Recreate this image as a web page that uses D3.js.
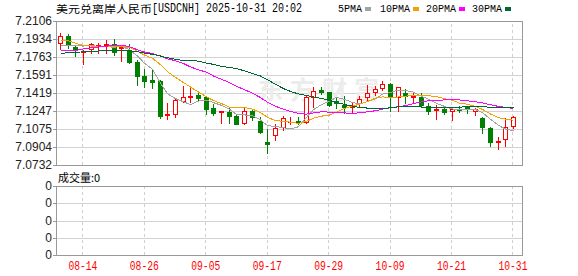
<!DOCTYPE html>
<html lang="zh">
<head>
<meta charset="UTF-8">
<title>美元兑离岸人民币[USDCNH] 日K</title>
<script src="https://cdn.jsdelivr.net/npm/d3@7/dist/d3.min.js"></script>
<style>
  body { margin: 0; background: #fff; }
  svg { display: block; }
  .grid line { stroke: #d2d2d2; shape-rendering: crispEdges; }
  .grid path { display: none; }
  .vgrid line { stroke: #cfcfcf; stroke-dasharray: 3,3; shape-rendering: crispEdges; }
  .vgrid path { display: none; }
  .ylab { font: 12px "Liberation Sans", Arial, sans-serif; fill: #222; }
  .mono { font-family: "Liberation Mono", "DejaVu Sans Mono", monospace; }
</style>
</head>
<body>
<div id="chart"></div>
<script>
// trading days shown (weekdays 08-11 .. 10-31)
const dates = ["08-11","08-12","08-13","08-14","08-15","08-18","08-19","08-20","08-21","08-22",
  "08-25","08-26","08-27","08-28","08-29","09-01","09-02","09-03","09-04","09-05",
  "09-08","09-09","09-10","09-11","09-12","09-15","09-16","09-17","09-18","09-19",
  "09-22","09-23","09-24","09-25","09-26","09-29","09-30","10-01","10-02","10-03",
  "10-06","10-07","10-08","10-09","10-10","10-13","10-14","10-15","10-16","10-17",
  "10-20","10-21","10-22","10-23","10-24","10-27","10-28","10-29","10-30","10-31"];

const opens = [7.1893,7.1963,7.1861,7.1807,7.1836,7.1867,7.1877,7.1887,7.1851,7.1829,
  7.1718,7.1581,7.1543,7.1533,7.1206,7.1216,7.1343,7.1378,7.1400,7.1378,
  7.1279,7.1235,7.1241,7.1199,7.1130,7.1250,7.1155,7.0954,7.1018,7.1092,
  7.1139,7.1155,7.1145,7.1384,7.1448,7.1429,7.1340,7.1304,7.1282,7.1327,
  7.1384,7.1432,7.1464,7.1505,7.1384,7.1416,7.1378,7.1384,7.1295,7.1257,
  7.1270,7.1247,7.1270,7.1282,7.1250,7.1177,7.1082,7.0954,7.0977,7.1107];

const highs = [7.1989,7.1982,7.1877,7.1829,7.1893,7.1893,7.1925,7.1931,7.1867,7.1887,
  7.1734,7.1645,7.1638,7.1543,7.1321,7.1368,7.1486,7.1479,7.1441,7.1390,
  7.1314,7.1250,7.1273,7.1209,7.1288,7.1263,7.1193,7.1073,7.1123,7.1199,
  7.1187,7.1193,7.1400,7.1479,7.1479,7.1432,7.1378,7.1390,7.1327,7.1390,
  7.1495,7.1486,7.1533,7.1511,7.1479,7.1454,7.1432,7.1422,7.1321,7.1304,
  7.1288,7.1282,7.1295,7.1295,7.1273,7.1187,7.1097,7.0996,7.1177,7.1199];

const lows = [7.1836,7.1845,7.1772,7.1693,7.1798,7.1798,7.1798,7.1782,7.1727,7.1708,
  7.1495,7.1479,7.1464,7.1183,7.1168,7.1187,7.1336,7.1336,7.1352,7.1219,
  7.1209,7.1136,7.1136,7.1123,7.1123,7.1161,7.1034,7.0849,7.0970,7.1066,
  7.1123,7.1123,7.1130,7.1282,7.1410,7.1295,7.1273,7.1231,7.1241,7.1288,
  7.1352,7.1400,7.1448,7.1250,7.1250,7.1321,7.1336,7.1282,7.1216,7.1173,
  7.1216,7.1161,7.1241,7.1231,7.1209,7.1034,7.0913,7.0888,7.0913,7.1082];

const closes = [7.1963,7.1877,7.1836,7.1817,7.1887,7.1877,7.1887,7.1813,7.1861,7.1718,
  7.1584,7.1533,7.1527,7.1202,7.1216,7.1352,7.1378,7.1390,7.1375,7.1263,
  7.1231,7.1244,7.1202,7.1126,7.1247,7.1193,7.1044,7.0932,7.1082,7.1184,
  7.1145,7.1142,7.1384,7.1441,7.1432,7.1304,7.1327,7.1282,7.1298,7.1362,
  7.1416,7.1457,7.1505,7.1384,7.1473,7.1390,7.1390,7.1304,7.1250,7.1270,
  7.1241,7.1270,7.1257,7.1273,7.1263,7.1097,7.0954,7.0964,7.1097,7.1187];

const ma5 = [7.1877,7.1877,7.1870,7.1867,7.1876,7.1859,7.1861,7.1856,7.1865,7.1831,
  7.1773,7.1702,7.1645,7.1513,7.1412,7.1366,7.1335,7.1308,7.1342,7.1352,
  7.1327,7.1301,7.1263,7.1213,7.1210,7.1202,7.1162,7.1108,7.1100,7.1087,
  7.1077,7.1097,7.1187,7.1259,7.1309,7.1341,7.1378,7.1357,7.1329,7.1315,
  7.1337,7.1363,7.1408,7.1425,7.1447,7.1442,7.1428,7.1388,7.1361,7.1321,
  7.1291,7.1267,7.1258,7.1262,7.1261,7.1232,7.1169,7.1110,7.1075,7.1060];

const ma10 = [7.1925,7.1918,7.1893,7.1872,7.1867,7.1866,7.1866,7.1865,7.1862,7.1854,
  7.1816,7.1781,7.1750,7.1689,7.1622,7.1569,7.1518,7.1476,7.1428,7.1382,
  7.1347,7.1318,7.1285,7.1278,7.1281,7.1265,7.1232,7.1186,7.1156,7.1149,
  7.1140,7.1130,7.1148,7.1179,7.1198,7.1209,7.1237,7.1272,7.1294,7.1312,
  7.1339,7.1370,7.1382,7.1377,7.1381,7.1389,7.1396,7.1398,7.1393,7.1384,
  7.1366,7.1348,7.1323,7.1312,7.1291,7.1262,7.1218,7.1184,7.1169,7.1160];

const ma20 = [7.1823,7.1823,7.1825,7.1840,7.1850,7.1858,7.1866,7.1872,7.1876,7.1860,
  7.1832,7.1810,7.1796,7.1770,7.1745,7.1727,7.1700,7.1668,7.1640,7.1618,
  7.1581,7.1550,7.1518,7.1483,7.1451,7.1417,7.1375,7.1331,7.1292,7.1265,
  7.1243,7.1224,7.1217,7.1229,7.1239,7.1237,7.1234,7.1229,7.1225,7.1230,
  7.1239,7.1250,7.1265,7.1278,7.1289,7.1299,7.1317,7.1335,7.1344,7.1348,
  7.1353,7.1359,7.1353,7.1344,7.1336,7.1325,7.1307,7.1291,7.1281,7.1272];

const ma30 = [7.1798,7.1803,7.1807,7.1812,7.1816,7.1820,7.1823,7.1823,7.1823,7.1821,
  7.1812,7.1800,7.1788,7.1772,7.1755,7.1740,7.1730,7.1733,7.1722,7.1705,
  7.1692,7.1673,7.1662,7.1652,7.1630,7.1605,7.1581,7.1545,7.1503,7.1461,
  7.1434,7.1410,7.1395,7.1382,7.1367,7.1348,7.1329,7.1311,7.1293,7.1281,
  7.1275,7.1273,7.1272,7.1278,7.1287,7.1288,7.1288,7.1285,7.1281,7.1281,
  7.1282,7.1283,7.1284,7.1289,7.1290,7.1287,7.1284,7.1285,7.1285,7.1285];

const yTicks = [7.2106,7.1934,7.1763,7.1591,7.1419,7.1247,7.1075,7.0904,7.0732];
const volTicks = ["0","0","0","0","0"];
const xTickDates = ["08-14","08-26","09-05","09-17","09-29","10-09","10-21","10-31"];

const maNames = ["5PMA","10PMA","20PMA","30PMA"];
const maColors = ["#a3a3a3","#f5a200","#ff00ff","#006633"];
const maSeries = [ma5, ma10, ma20, ma30];

// layout
const W = 578, H = 276;
const left = 56, right = 522;
const mainTop = 21, mainBottom = 165;
const volTop = 186, volBottom = 255;
const step = 7.68;   // px per trading day

const svg = d3.select("#chart").append("svg")
    .attr("width", W)
    .attr("height", H);

const x = d3.scaleBand()
    .domain(dates)
    .range([left, left + step * dates.length]);
const cx = d => Math.round(x(d) + x.bandwidth() / 2);

const y = d3.scaleLinear()
    .domain([yTicks[yTicks.length - 1], yTicks[0]])
    .range([mainBottom, mainTop]);

const yVol = d3.scalePoint()
    .domain(d3.range(volTicks.length))
    .range([volBottom, volTop]);

// horizontal grid
svg.append("g")
    .attr("class", "grid")
    .attr("transform", `translate(${left},0)`)
    .call(d3.axisLeft(y).tickValues(yTicks).tickSize(-(right - left)).tickFormat(""));
svg.append("g")
    .attr("class", "grid")
    .attr("transform", `translate(${left},0)`)
    .call(d3.axisLeft(yVol).tickSize(-(right - left)).tickFormat(""));

// vertical dashed grid
const xGrid = d3.axisBottom(x).tickValues(xTickDates).tickFormat("").tickSizeOuter(0);
svg.append("g")
    .attr("class", "vgrid")
    .attr("transform", `translate(0,${mainBottom})`)
    .call(xGrid.tickSize(-(mainBottom - mainTop)));
svg.append("g")
    .attr("class", "vgrid")
    .attr("transform", `translate(0,${volBottom})`)
    .call(xGrid.tickSize(-(volBottom - volTop)));

// watermark
svg.append("text")
    .attr("x", 258)
    .attr("y", 99)
    .attr("fill", "#ececec")
    .attr("font-family", "'Noto Sans CJK SC', sans-serif")
    .attr("font-weight", "bold")
    .attr("font-size", 25)
    .attr("letter-spacing", 7)
    .text("东方财富");

// frames
[[mainTop, mainBottom], [volTop, volBottom]].forEach(([t, b]) => {
  svg.append("rect")
      .attr("x", left + 0.5)
      .attr("y", t + 0.5)
      .attr("width", right - left)
      .attr("height", b - t)
      .attr("fill", "none")
      .attr("stroke", "#999");
});

// y labels + little ticks
const yAxis = svg.append("g");
yAxis.selectAll("line")
  .data(yTicks)
  .join("line")
    .attr("x1", left - 3).attr("x2", left)
    .attr("y1", d => Math.round(y(d)) + 0.5)
    .attr("y2", d => Math.round(y(d)) + 0.5)
    .attr("stroke", "#999");
yAxis.selectAll("text")
  .data(yTicks)
  .join("text")
    .attr("class", "ylab")
    .attr("x", left - 4)
    .attr("y", d => y(d) + 4)
    .attr("text-anchor", "end")
    .text(d => d.toFixed(4));

const volAxis = svg.append("g");
volAxis.selectAll("line")
  .data(volTicks)
  .join("line")
    .attr("x1", left - 3).attr("x2", left)
    .attr("y1", (d, i) => Math.round(yVol(i)) + 0.5)
    .attr("y2", (d, i) => Math.round(yVol(i)) + 0.5)
    .attr("stroke", "#999");
volAxis.selectAll("text")
  .data(volTicks)
  .join("text")
    .attr("class", "ylab")
    .attr("x", left - 4)
    .attr("y", (d, i) => yVol(i) + 4)
    .attr("text-anchor", "end")
    .text(d => d);

// x labels
svg.selectAll(".xlab")
  .data(xTickDates)
  .join("text")
    .attr("class", "xlab mono")
    .attr("x", d => x(d) + x.bandwidth() / 2)
    .attr("y", 270)
    .attr("text-anchor", "middle")
    .attr("font-size", 12)
    .attr("textLength", 29)
    .attr("lengthAdjust", "spacingAndGlyphs")
    .attr("fill", "#ff0000")
    .text(d => d);

// candles
const up = "#ff0000", down = "#008000";
const candles = svg.append("g").selectAll("g")
  .data(dates.map((d, i) => ({d, o: opens[i], h: highs[i], l: lows[i], c: closes[i]})))
  .join("g");

candles.each(function(k) {
  const g = d3.select(this);
  const px = cx(k.d);
  const yo = Math.round(y(k.o)), yc = Math.round(y(k.c));
  const yh = Math.round(y(k.h)), yl = Math.round(y(k.l));
  const top = Math.min(yo, yc), bot = Math.max(yo, yc);
  const isUp = k.c >= k.o;
  const col = isUp ? up : down;

  if (isUp && bot - top >= 2) {
    // hollow red body, wick outside only
    g.append("line").attr("x1", px + 0.5).attr("x2", px + 0.5)
        .attr("y1", yh).attr("y2", top).attr("stroke", col);
    g.append("line").attr("x1", px + 0.5).attr("x2", px + 0.5)
        .attr("y1", bot + 1).attr("y2", yl + 1).attr("stroke", col);
    g.append("rect")
        .attr("x", px - 1.5).attr("y", top + 0.5)
        .attr("width", 4).attr("height", bot - top)
        .attr("fill", "#fff").attr("stroke", col);
  } else {
    g.append("line").attr("x1", px + 0.5).attr("x2", px + 0.5)
        .attr("y1", yh).attr("y2", yl + 1).attr("stroke", col);
    g.append("rect")
        .attr("x", px - 2).attr("y", top)
        .attr("width", 5).attr("height", Math.max(1, bot - top + 1))
        .attr("fill", col);
  }
});

// moving averages (drawn aliased like the original)
maSeries.forEach((s, j) => {
  svg.append("path")
      .datum(s)
      .attr("fill", "none")
      .attr("stroke", maColors[j])
      .attr("stroke-width", 1)
      .attr("shape-rendering", "crispEdges")
      .attr("d", d3.line()
          .x((v, i) => cx(dates[i]) + 0.5)
          .y(v => y(v)));
});

// title
svg.append("text")
    .attr("x", 56).attr("y", 12.5)
    .attr("font-family", "'Noto Sans CJK SC', sans-serif")
    .attr("font-size", 10.5)
    .attr("textLength", 96)
    .attr("lengthAdjust", "spacingAndGlyphs")
    .text("美元兑离岸人民币");
svg.append("text")
    .attr("class", "mono")
    .attr("x", 152).attr("y", 12)
    .attr("font-size", 12)
    .attr("textLength", 150)
    .attr("lengthAdjust", "spacingAndGlyphs")
    .text("[USDCNH] 2025-10-31 20:02");

// legend
const legendX = [338, 380, 426, 472];
const legend = svg.append("g");
maNames.forEach((n, j) => {
  legend.append("text")
      .attr("class", "mono")
      .attr("x", legendX[j]).attr("y", 12)
      .attr("font-size", 11)
      .attr("textLength", n.length * 6)
      .attr("lengthAdjust", "spacingAndGlyphs")
      .text(n);
  legend.append("rect")
      .attr("x", legendX[j] + n.length * 6 + 3).attr("y", 7)
      .attr("width", 6).attr("height", 4)
      .attr("fill", maColors[j]);
});

// volume caption
svg.append("text")
    .attr("x", 58).attr("y", 182)
    .attr("font-family", "'Noto Sans CJK SC', sans-serif")
    .attr("font-size", 11)
    .text("成交量:0");
</script>
</body>
</html>
